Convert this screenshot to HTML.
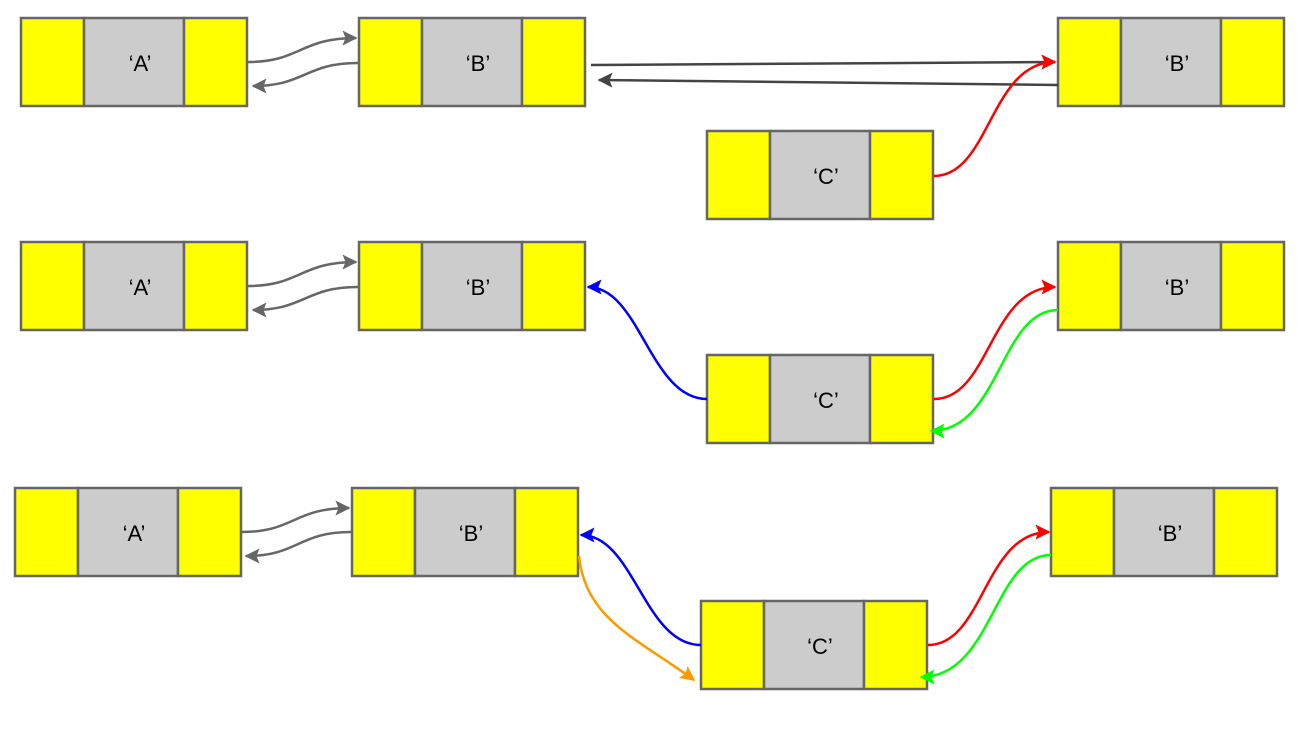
<!DOCTYPE html>
<html><head><meta charset="utf-8"><style>
html,body{margin:0;padding:0;background:#fff;}
svg{display:block;}
text{font-family:"Liberation Sans",Arial,sans-serif;font-size:22px;fill:#000;}
</style></head><body>
<svg width="1314" height="736" viewBox="0 0 1314 736" xmlns="http://www.w3.org/2000/svg">
<defs>
<marker id="mg" viewBox="0 0 10 10" refX="9" refY="5" markerWidth="6" markerHeight="6" orient="auto" markerUnits="strokeWidth"><path d="M0,0 L10,5 L0,10 L2,5 z" fill="#666"/></marker>
<marker id="md" viewBox="0 0 10 10" refX="9" refY="5" markerWidth="6" markerHeight="6" orient="auto" markerUnits="strokeWidth"><path d="M0,0 L10,5 L0,10 L2,5 z" fill="#444"/></marker>
<marker id="mr" viewBox="0 0 10 10" refX="9" refY="5" markerWidth="6" markerHeight="6" orient="auto" markerUnits="strokeWidth"><path d="M0,0 L10,5 L0,10 L2,5 z" fill="#f00"/></marker>
<marker id="mb" viewBox="0 0 10 10" refX="9" refY="5" markerWidth="6" markerHeight="6" orient="auto" markerUnits="strokeWidth"><path d="M0,0 L10,5 L0,10 L2,5 z" fill="#00f"/></marker>
<marker id="mgr" viewBox="0 0 10 10" refX="9" refY="5" markerWidth="6" markerHeight="6" orient="auto" markerUnits="strokeWidth"><path d="M0,0 L10,5 L0,10 L2,5 z" fill="#0f0"/></marker>
<marker id="mo" viewBox="0 0 10 10" refX="9" refY="5" markerWidth="6" markerHeight="6" orient="auto" markerUnits="strokeWidth"><path d="M0,0 L10,5 L0,10 L2,5 z" fill="#f90"/></marker>
<g id="node">
<rect x="0" y="0" width="63" height="88" fill="#ff0" stroke="#666" stroke-width="2.5"/>
<rect x="63" y="0" width="100" height="88" fill="#ccc" stroke="#666" stroke-width="2.5"/>
<rect x="163" y="0" width="63" height="88" fill="#ff0" stroke="#666" stroke-width="2.5"/>
</g>
</defs>

<use href="#node" x="21" y="18"/><text x="140" y="71" text-anchor="middle">‘A’</text>
<use href="#node" x="359" y="18"/><text x="478" y="71" text-anchor="middle">‘B’</text>
<use href="#node" x="1058" y="18"/><text x="1177" y="71" text-anchor="middle">‘B’</text>
<use href="#node" x="707" y="131"/><text x="826" y="184" text-anchor="middle">‘C’</text>

<use href="#node" x="21" y="242"/><text x="140" y="295" text-anchor="middle">‘A’</text>
<use href="#node" x="359" y="242"/><text x="478" y="295" text-anchor="middle">‘B’</text>
<use href="#node" x="1058" y="242"/><text x="1177" y="295" text-anchor="middle">‘B’</text>
<use href="#node" x="707" y="355"/><text x="826" y="408" text-anchor="middle">‘C’</text>

<use href="#node" x="15" y="488"/><text x="134" y="541" text-anchor="middle">‘A’</text>
<use href="#node" x="352" y="488"/><text x="471" y="541" text-anchor="middle">‘B’</text>
<use href="#node" x="1051" y="488"/><text x="1170" y="541" text-anchor="middle">‘B’</text>
<use href="#node" x="701" y="601"/><text x="820" y="654" text-anchor="middle">‘C’</text>

<g fill="none" stroke-width="2.5">
<path d="M248,62 C300,62 300,38 356,38" stroke="#666" marker-end="url(#mg)"/>
<path d="M358,63 C305,63 305,86 253,86" stroke="#666" marker-end="url(#mg)"/>
<path d="M591,65 L1055,62" stroke="#444" marker-end="url(#md)"/>
<path d="M1058,85 L599,80" stroke="#444" marker-end="url(#md)"/>
<path d="M934,176 C990,176 990,62 1055,62" stroke="#f00" marker-end="url(#mr)"/>
<path d="M248,286 C300,286 300,262 356,262" stroke="#666" marker-end="url(#mg)"/>
<path d="M358,287 C305,287 305,310 253,310" stroke="#666" marker-end="url(#mg)"/>
<path d="M707,399 C650,399 640,287 588,287" stroke="#00f" marker-end="url(#mb)"/>
<path d="M934,399 C990,399 990,287 1055,287" stroke="#f00" marker-end="url(#mr)"/>
<path d="M1058,310 C1000,310 1000,431 931,431" stroke="#0f0" marker-end="url(#mgr)"/>
<path d="M242,532 C294,532 294,508 349,508" stroke="#666" marker-end="url(#mg)"/>
<path d="M351,532 C298,532 298,556 246,556" stroke="#666" marker-end="url(#mg)"/>
<path d="M701,645 C644,645 634,535 581,535" stroke="#00f" marker-end="url(#mb)"/>
<path d="M579,556 C585,620 640,640 694,680" stroke="#f90" marker-end="url(#mo)"/>
<path d="M928,645 C984,645 984,532 1049,532" stroke="#f00" marker-end="url(#mr)"/>
<path d="M1051,555 C993,555 993,677 921,677" stroke="#0f0" marker-end="url(#mgr)"/>
</g>
</svg>
</body></html>
